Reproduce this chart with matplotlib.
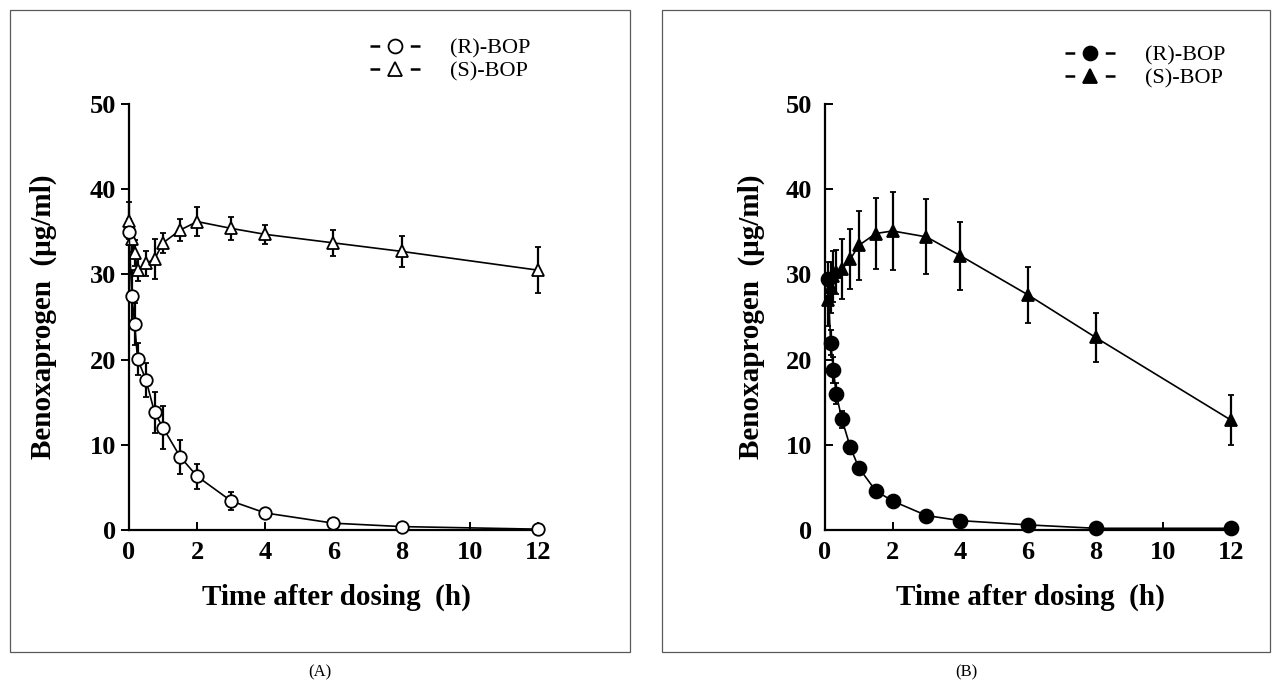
import matplotlib
matplotlib.use("Agg")
import matplotlib.pyplot as plt
from matplotlib.lines import Line2D
from matplotlib.patches import Rectangle

plt.rcParams["font.family"] = ["Liberation Serif", "DejaVu Serif"]
plt.rcParams["lines.scale_dashes"] = False

# panel A sampling times and means / SD
time_a = [0, 0.083, 0.167, 0.25, 0.5, 0.75, 1, 1.5, 2, 3, 4, 6, 8, 12]
r_a = [35.0, 27.5, 24.2, 20.1, 17.6, 13.8, 12.0, 8.6, 6.3, 3.4, 2.0, 0.8, 0.4, 0.1]
r_a_sd = [1.5, 3.0, 2.5, 1.9, 2.0, 2.4, 2.5, 2.0, 1.5, 1.1, 0.5, 0.3, 0.3, 0.2]
s_a = [36.3, 34.1, 32.5, 30.5, 31.3, 31.8, 33.7, 35.2, 36.2, 35.4, 34.7, 33.7, 32.7, 30.5]
s_a_sd = [2.2, 1.5, 1.5, 1.3, 1.5, 2.3, 1.2, 1.3, 1.7, 1.35, 1.1, 1.5, 1.8, 2.7]

# panel B
time_b = [0.083, 0.167, 0.25, 0.33, 0.5, 0.75, 1, 1.5, 2, 3, 4, 6, 8, 12]
r_b = [29.5, 22.0, 18.8, 16.0, 13.0, 9.7, 7.3, 4.6, 3.4, 1.7, 1.1, 0.6, 0.2, 0.2]
r_b_sd = [2.0, 1.5, 1.5, 1.2, 1.0, 0.8, 0.6, 0.5, 0.5, 0.3, 0.3, 0.2, 0.1, 0.1]
s_b = [27.0, 28.5, 29.8, 30.3, 30.6, 31.8, 33.4, 34.8, 35.1, 34.4, 32.2, 27.6, 22.6, 12.9]
s_b_sd = [3.0, 3.0, 3.0, 2.6, 3.5, 3.5, 4.0, 4.2, 4.6, 4.4, 4.0, 3.3, 2.85, 2.9]

x_ticks = [0, 2, 4, 6, 8, 10, 12]
y_ticks = [0, 10, 20, 30, 40, 50]
labels = ["(R)-BOP", "(S)-BOP"]

W, H = 1280, 685
fig = plt.figure(figsize=(12.8, 6.85), dpi=100)


def fx(px):
    return px / W


def fy(py):
    return 1 - py / H


def setup_axes(ax, ytick_dir, ylabelpad):
    ax.set_xlim(0, 12.15)
    ax.set_ylim(0, 50)
    ax.set_xticks(x_ticks)
    ax.set_yticks(y_ticks)
    for side in ["top", "right"]:
        ax.spines[side].set_visible(False)
    for side in ["left", "bottom"]:
        ax.spines[side].set_linewidth(1.6)
    ax.tick_params(axis="x", direction="in", length=6, width=1.4, pad=8, labelsize=19)
    ax.tick_params(axis="y", direction=ytick_dir, length=6, width=1.4,
                   pad=3 if ytick_dir == "out" else 9, labelsize=19)
    for lab in ax.get_xticklabels() + ax.get_yticklabels():
        lab.set_fontweight("bold")
    ax.set_xlabel("Time after dosing  (h)", fontsize=21, fontweight="bold", labelpad=14)
    ax.set_ylabel("Benoxaprogen  (\u03bcg/ml)", fontsize=21, fontweight="bold",
                  labelpad=ylabelpad)


def plot_series(ax, t, y, sd, marker, face, ms):
    ax.errorbar(t, y, yerr=sd, color="black", marker=marker, mfc=face, mec="black",
                ms=ms, mew=1.3, lw=1.2, elinewidth=1.6, capsize=2.5, capthick=1.6,
                clip_on=False, zorder=3)


def legend_handles(face):
    handles = []
    for marker, ms in [("o", 10), ("^", 10)]:
        handles.append(Line2D([], [], color="black", marker=marker, mfc=face, mec="black",
                              ms=ms, mew=1.3, lw=1.8, dashes=(7, 22)))
    return handles


# panel A
ax_a = fig.add_axes([fx(129), fy(530), fx(543) - fx(129), fy(104) - fy(530)])
plot_series(ax_a, time_a, s_a, s_a_sd, "^", "white", 8)
plot_series(ax_a, time_a, r_a, r_a_sd, "o", "white", 9)
setup_axes(ax_a, "out", 24)
ax_a.legend(legend_handles("white"), labels, loc="upper left",
            bbox_to_anchor=(fx(370), fy(38)), bbox_transform=fig.transFigure,
            frameon=False, fontsize=16, handlelength=2.25, handletextpad=1.35,
            borderpad=0, borderaxespad=0, labelspacing=0.1)

# panel B
ax_b = fig.add_axes([fx(825), fy(530), fx(1236) - fx(825), fy(104) - fy(530)])
plot_series(ax_b, time_b, s_b, s_b_sd, "^", "black", 9)
plot_series(ax_b, time_b, r_b, r_b_sd, "o", "black", 10)
setup_axes(ax_b, "in", 15)
ax_b.legend(legend_handles("black"), labels, loc="upper left",
            bbox_to_anchor=(fx(1065), fy(45)), bbox_transform=fig.transFigure,
            frameon=False, fontsize=16, handlelength=2.25, handletextpad=1.35,
            borderpad=0, borderaxespad=0, labelspacing=0.1)

# panel frames and captions
for x0, x1 in [(10, 630), (662, 1270)]:
    fig.add_artist(Rectangle((fx(x0), fy(652)), fx(x1) - fx(x0), fy(10) - fy(652),
                             transform=fig.transFigure, fill=False, lw=0.9, ec="0.35"))
fig.text(fx(320), fy(672), "(A)", ha="center", va="center", fontsize=12)
fig.text(fx(966), fy(672), "(B)", ha="center", va="center", fontsize=12)

fig.savefig("out.png", dpi=100)
